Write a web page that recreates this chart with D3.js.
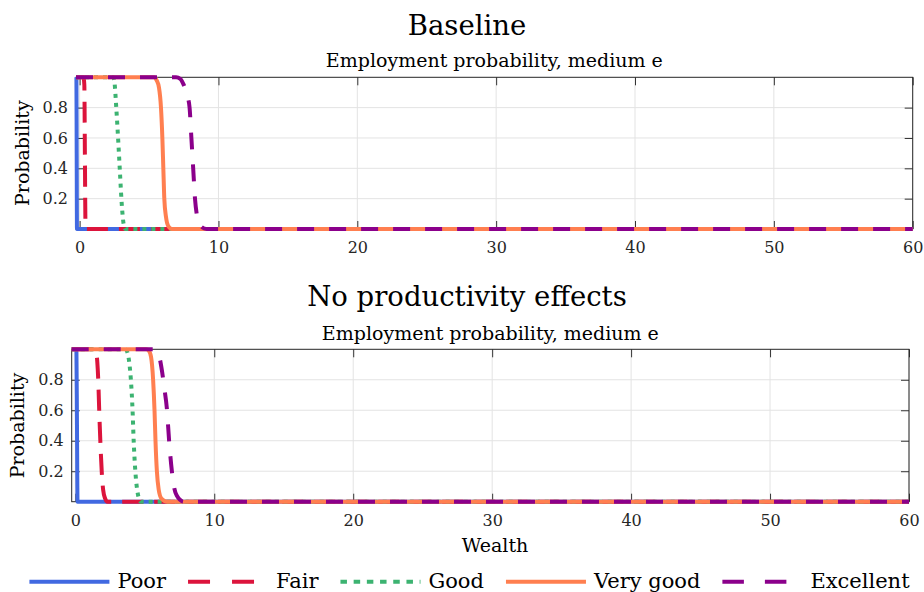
<!DOCTYPE html>
<html><head><meta charset="utf-8">
<script src="https://cdn.jsdelivr.net/npm/d3@7"></script>
<style>
body{margin:0;background:#fff}
svg{display:block}
</style>
</head><body>
<svg id="c" width="924" height="592"></svg>
<script>
// ---------- data ----------
const seriesNames = ["Poor", "Fair", "Good", "Very good", "Excellent"];
const xTicks = [0, 10, 20, 30, 40, 50, 60];
const yTicks = [0.2, 0.4, 0.6, 0.8];
const panelTitles = ["Baseline", "No productivity effects"];
const panelSubtitle = "Employment probability, medium e";
const xLabelText = "Wealth";
const yLabelText = "Probability";
const wealthRange = [-0.26, 60];
const probRange = [0, 1];

// Baseline panel
const basePoorW = [-0.26, -0.23, -0.21, -0.19, 60];
const basePoorP = [1, 1, 0.5, 0, 0];
const baseFairW = [-0.26, 0.28, 0.34, 0.38, 0.42, 0.48, 60];
const baseFairP = [1, 1, 0.95, 0.5, 0.05, 0, 0];
const baseGoodW = [-0.26, 2.42, 2.52, 2.64, 2.77, 2.89, 3.01, 3.13, 3.28, 60];
const baseGoodP = [1, 1, 0.96, 0.8, 0.6, 0.4, 0.2, 0.06, 0, 0];
const baseVeryGoodW = [-0.26, 5.35, 5.55, 5.72, 5.86, 5.96, 6.03, 6.1, 6.22, 6.38, 6.65, 60];
const baseVeryGoodP = [1, 1, 0.98, 0.93, 0.8, 0.6, 0.4, 0.2, 0.08, 0.02, 0, 0];
const baseExcellentW = [-0.26, 6.95, 7.25, 7.5, 7.75, 7.92, 8.05, 8.18, 8.31, 8.47, 8.7, 9.15, 60];
const baseExcellentP = [1, 1, 0.99, 0.95, 0.88, 0.8, 0.6, 0.4, 0.2, 0.08, 0.02, 0, 0];

// No productivity effects panel
const noprodPoorW = [-0.26, 0.08, 0.12, 0.16, 60];
const noprodPoorP = [1, 1, 0.5, 0, 0];
const noprodFairW = [-0.26, 1.4, 1.5, 1.58, 1.65, 1.72, 1.8, 1.9, 2.0, 2.15, 2.3, 60];
const noprodFairP = [1, 1, 0.98, 0.92, 0.8, 0.6, 0.4, 0.2, 0.08, 0.02, 0, 0];
const noprodGoodW = [-0.26, 3.6, 3.75, 3.9, 4.0, 4.12, 4.2, 4.32, 4.45, 4.7, 60];
const noprodGoodP = [1, 1, 0.98, 0.9, 0.8, 0.6, 0.4, 0.2, 0.08, 0, 0];
const noprodVeryGoodW = [-0.26, 5.1, 5.3, 5.45, 5.6, 5.7, 5.77, 5.87, 6.0, 6.2, 6.6, 60];
const noprodVeryGoodP = [1, 1, 0.99, 0.95, 0.8, 0.6, 0.4, 0.2, 0.08, 0.02, 0, 0];
const noprodExcellentW = [-0.26, 5.6, 5.85, 6.05, 6.25, 6.4, 6.6, 6.75, 6.95, 7.1, 7.3, 7.8, 60];
const noprodExcellentP = [1, 1, 0.99, 0.95, 0.85, 0.75, 0.6, 0.4, 0.2, 0.1, 0.04, 0, 0];

// ---------- styles ----------
const seriesColors = ["#4169E1", "#DC143C", "#3CB371", "#FF7F50", "#8B008B"];
const seriesDash = [null, "21,11", "4,5", null, "17,15"];
const legendDash = [null, "22,22", "6.5,6.7", null, "21.5,21"];
const FONT = "DejaVu Serif";

const panels = [
  { title: panelTitles[0], left: 76, right: 912.7, top: 77.3, bottom: 229,
    titleY: 35, subY: 66.7, showX: false, yLabX: 22,
    series: [[basePoorW, basePoorP], [baseFairW, baseFairP], [baseGoodW, baseGoodP],
             [baseVeryGoodW, baseVeryGoodP], [baseExcellentW, baseExcellentP]] },
  { title: panelTitles[1], left: 71.7, right: 909, top: 349.3, bottom: 501.7,
    titleY: 306, subY: 340, showX: true, yLabX: 17,
    series: [[noprodPoorW, noprodPoorP], [noprodFairW, noprodFairP], [noprodGoodW, noprodGoodP],
             [noprodVeryGoodW, noprodVeryGoodP], [noprodExcellentW, noprodExcellentP]] }
];

const svg = d3.select("#c").attr("font-family", FONT);
svg.append("rect").attr("width", 924).attr("height", 592).attr("fill", "#fff");

panels.forEach(p => {
  const x = d3.scaleLinear().domain(wealthRange).range([p.left, p.right]);
  const y = d3.scaleLinear().domain(probRange).range([p.bottom, p.top]);
  const g = svg.append("g");

  g.append("g").selectAll("line").data(xTicks).join("line")
    .attr("x1", d => x(d)).attr("x2", d => x(d))
    .attr("y1", p.top).attr("y2", p.bottom)
    .attr("stroke", "#e3e3e3").attr("stroke-width", 1);
  g.append("g").selectAll("line").data(yTicks).join("line")
    .attr("y1", d => y(d)).attr("y2", d => y(d))
    .attr("x1", p.left).attr("x2", p.right)
    .attr("stroke", "#e3e3e3").attr("stroke-width", 1);

  const styleAxis = sel => {
    sel.select(".domain").remove();
    sel.selectAll(".tick line").attr("stroke", "#333").attr("stroke-width", 1);
    sel.attr("font-family", FONT).attr("font-size", 16);
    sel.selectAll(".tick text").attr("fill", "#262626");
  };
  g.append("g").attr("transform", `translate(0,${p.bottom})`)
    .call(d3.axisBottom(x).tickValues(xTicks).tickSizeInner(-8).tickSizeOuter(0).tickPadding(13).tickFormat(d3.format("d")))
    .call(styleAxis);
  g.append("g").attr("transform", `translate(0,${p.top})`)
    .call(d3.axisTop(x).tickValues(xTicks).tickSizeInner(-8).tickSizeOuter(0).tickFormat(""))
    .call(styleAxis);
  g.append("g").attr("transform", `translate(${p.left},0)`)
    .call(d3.axisLeft(y).tickValues(yTicks).tickSizeInner(-8).tickSizeOuter(0).tickPadding(8).tickFormat(d3.format(".1f")))
    .call(styleAxis);
  g.append("g").attr("transform", `translate(${p.right},0)`)
    .call(d3.axisRight(y).tickValues(yTicks).tickSizeInner(-8).tickSizeOuter(0).tickFormat(""))
    .call(styleAxis);

  g.append("rect").attr("x", p.left).attr("y", p.top)
    .attr("width", p.right - p.left).attr("height", p.bottom - p.top)
    .attr("fill", "none").attr("stroke", "#262626").attr("stroke-width", 1);

  const line = d3.line().x(d => x(d[0])).y(d => y(d[1])).curve(d3.curveMonotoneX);
  p.series.forEach((s, i) => {
    const pts = s[0].map((w, k) => [w, s[1][k]]);
    g.append("path").attr("d", line(pts))
      .attr("fill", "none").attr("stroke", seriesColors[i]).attr("stroke-width", 4)
      .attr("stroke-dasharray", seriesDash[i]);
  });

  svg.append("text").attr("x", 467).attr("y", p.titleY).attr("text-anchor", "middle")
    .attr("font-size", 27.5).text(p.title);
  svg.append("text").attr("x", (p.left + p.right) / 2).attr("y", p.subY).attr("text-anchor", "middle")
    .attr("font-size", 19).text(panelSubtitle);
  const cy = (p.top + p.bottom) / 2;
  svg.append("text").attr("transform", `translate(${p.yLabX},${cy}) rotate(-90)`)
    .attr("text-anchor", "middle").attr("dominant-baseline", "central")
    .attr("font-size", 19).text(yLabelText);
  if (p.showX) {
    svg.append("text").attr("x", 495).attr("y", 552).attr("text-anchor", "middle")
      .attr("font-size", 19).text(xLabelText);
  }
});

const lg = svg.append("g");
let cx = 0;
seriesNames.forEach((name, i) => {
  lg.append("line").attr("x1", cx).attr("x2", cx + 80).attr("y1", 0).attr("y2", 0)
    .attr("stroke", seriesColors[i]).attr("stroke-width", 4)
    .attr("stroke-dasharray", legendDash[i]);
  const t = lg.append("text").attr("x", cx + 88).attr("y", 6)
    .attr("font-size", 21).text(name);
  cx += 88 + t.node().getComputedTextLength() + 22;
});
const total = cx - 22;
lg.attr("transform", `translate(${469.5 - total / 2},581.7)`);
</script>
</body></html>
